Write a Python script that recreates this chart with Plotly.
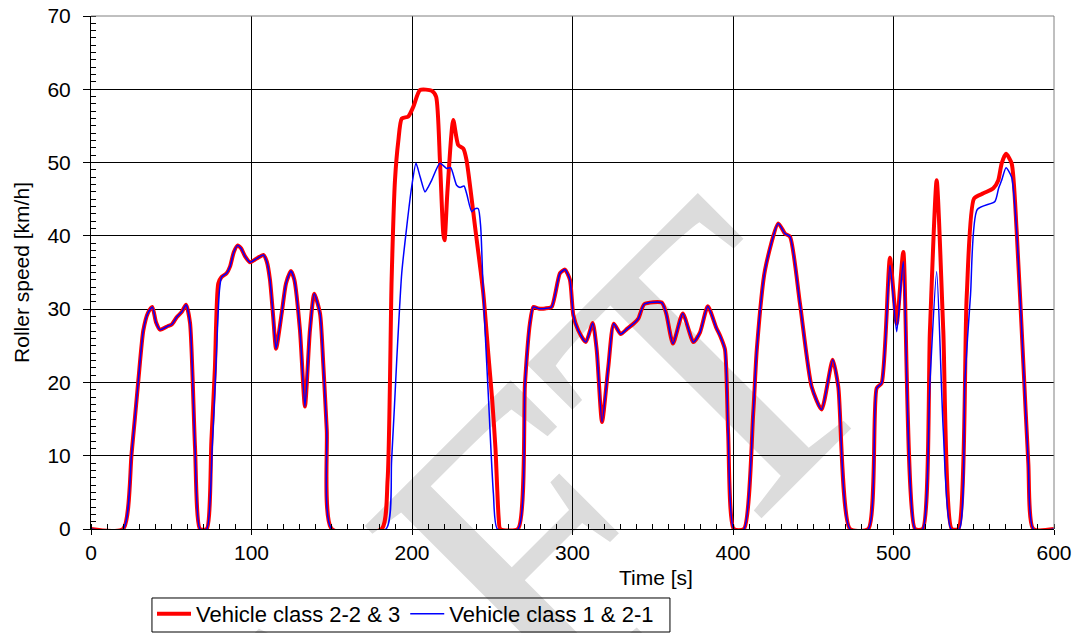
import plotly.graph_objects as go

# ---- data ----
t_red = [0, 20, 25.3, 29.5, 32.6, 35.5, 38.2, 40.5, 43, 48, 50.3, 53.4, 56.5, 59.2, 61.7, 64.8, 67.9,
         72.1, 75, 77.2, 79.3, 81.4, 84.5, 86.6, 89, 91.4, 93.5, 96, 99.1, 103.2, 107.4, 109.5, 111.5,
         113.5, 115.3, 118.8, 121.5, 124.6, 126.7, 130.2, 133.3, 136.4, 139.1, 142.7, 144.7, 146.9, 150,
         181.1, 184.8, 187.3, 189.4, 191.5, 193.6, 197.7, 200.8, 205, 212.3, 215, 217.4, 219.5, 220.3,
         222, 225.7, 228.8, 232, 234, 239.3, 244.4, 247.5, 250, 252, 254, 255,
         266, 270.4, 273.5, 275.6, 278.7, 283, 287, 292.2, 295.3, 298.4, 300.5, 303.6, 308.3, 312.6,
         315.1, 318.4, 322.3, 325.7, 330, 334, 338.5, 341, 344.8, 355.6, 358.4, 362.6, 368.7, 375.3,
         379.4, 384.3, 389.5, 392.3, 395, 397, 400.5, 406.8, 412.6, 414.8, 419.9, 428.2, 432.4, 435.5,
         441.7, 449, 455.2, 462.1, 465.6, 472.9, 484.3, 489.5, 492.6, 497.8, 502, 506.1, 513.4,
         518.2, 522.7, 526.9, 531, 536.3, 540.4, 545.6, 550.2, 556, 562.2, 565.3, 567.4, 570.1, 573.6,
         576.7, 580.9, 584, 587.1, 600]
v_red = [0, 0, 10.3, 20.3, 27.1, 29.5, 30.3, 28.2, 27.2, 27.7, 27.9, 28.9, 29.6, 30.6, 28.1, 11.2, 0,
         0, 12, 22, 33.5, 34.4, 34.9, 35.8, 37.8, 38.7, 38.3, 37.2, 36.4, 36.9, 37.4, 36.5, 34.0,
         29, 24.6, 29.4, 33.5, 35.2, 34.0, 27.1, 16.7, 27.1, 32.1, 29.4, 22.6, 13.5, 0,
         0, 6.7, 34, 47.6, 53, 56.0, 56.3, 57.6, 59.9, 59.8, 59, 50.3, 40.3, 39.4,
         45.8, 55.8, 52.4, 51.9, 50.3, 41.2, 32.2, 24.0, 17.5, 11, 1.5, 0,
         0, 19.9, 28.1, 30.3, 30.1, 30.1, 30.3, 34.9, 35.4, 34, 29.2, 27.1, 25.5, 28.1,
         24.4, 14.6, 22.1, 28.0, 26.6, 27.3, 28.1, 28.7, 30.7, 30.9, 29.4, 25.3, 29.4, 25.5,
         26.8, 30.4, 27.5, 26.2, 24.5, 13, 0, 0, 15.8, 24.4, 35.3, 41.7, 40.3, 39.9,
         30.8, 19.4, 16.3, 23.1, 19.4, 0, 0, 19.2, 19.9, 37.0, 28.0, 37.8, 0,
         0, 27.1, 47.6, 27.1, 0, 0, 31.7, 45.1, 45.8, 46.5, 47.6, 49.9, 51.2, 49.9,
         40.8, 22.6, 9, 0, 0]

t_blue = [0, 20, 25.3, 29.5, 32.6, 35.5, 38.2, 40.5, 43, 48, 50.3, 53.4, 56.5, 59.2, 61.7, 64.8, 67.9,
          72.1, 75.5, 77.6, 80, 81.4, 84.5, 86.6, 89, 91.4, 93.5, 96, 99.1, 103.2, 107.4, 109.5, 111.5,
          113.5, 115.3, 118.8, 121.5, 124.6, 126.7, 130.2, 133.3, 136.4, 139.1, 142.7, 144.7, 146.9, 150,
          183.8, 187.3, 190.5, 193.6, 196.7, 199.8, 202.5, 205, 208.1, 210.2, 212.3, 217.4, 221.6, 224.1,
          227.8, 229.9, 232.4, 234, 237.2, 239.3, 241.3, 242.8, 244.4, 247.5, 250.7, 253.2,
          266, 270.4, 273.5, 275.6, 278.7, 283, 287, 292.2, 295.3, 298.4, 300.5, 303.6, 308.3, 312.6,
          315.1, 318.4, 322.3, 325.7, 330, 334, 338.5, 341, 344.8, 355.6, 358.4, 362.6, 368.7, 375.3,
          379.4, 384.3, 389.5, 392.3, 395, 397, 400.5, 406.8, 412.6, 414.8, 419.9, 428.2, 432.4, 435.5,
          441.7, 449, 455.2, 462.1, 465.6, 472.9, 484.3, 489.5, 492.6, 497.8, 502, 506.1, 513.4,
          518.2, 522.7, 526.9, 531, 535.8, 541, 544.5, 548, 552.2, 563.2, 565.5, 567.4, 570.1, 573.6,
          576.7, 580.9, 584, 587.1, 600]
v_blue = [0, 0, 10.3, 20.3, 27.1, 29.5, 30.3, 28.2, 27.2, 27.7, 27.9, 28.9, 29.6, 30.6, 28.1, 11.2, 0,
          0, 11, 21, 32.5, 34.4, 34.9, 35.8, 37.8, 38.7, 38.3, 37.2, 36.4, 36.9, 37.4, 36.5, 34.0,
          29, 24.6, 29.4, 33.5, 35.2, 34.0, 27.1, 16.7, 27.1, 32.1, 29.4, 22.6, 13.5, 0,
          0, 9.4, 23.1, 34.9, 41.2, 46.7, 49.9, 48.1, 46.0, 46.7, 47.6, 49.9, 49.2, 49.3,
          46.9, 46.6, 46.8, 45.8, 43.3, 43.7, 43.7, 41.2, 32.2, 18.5, 4.9, 0,
          0, 19.9, 28.1, 30.3, 30.1, 30.1, 30.3, 34.9, 35.4, 34, 29.2, 27.1, 25.5, 28.1,
          24.4, 14.6, 22.1, 28.0, 26.6, 27.3, 28.1, 28.7, 30.7, 30.9, 29.4, 25.3, 29.4, 25.5,
          26.8, 30.4, 27.5, 26.2, 24.5, 13, 0, 0, 15.8, 24.4, 35.3, 41.7, 40.3, 39.9,
          30.8, 19.4, 16.3, 23.1, 19.4, 0, 0, 19.2, 19.9, 36.0, 26.9, 36.5, 0,
          0, 20, 35.1, 13.5, 0, 0, 20.3, 32, 43.6, 44.7, 46.5, 47.6, 49.3, 48,
          40.8, 22.6, 9, 0, 0]

x_ticks = [0, 100, 200, 300, 400, 500, 600]
y_ticks = [0, 10, 20, 30, 40, 50, 60, 70]

FONT = "Liberation Sans, Arial, sans-serif"

fig = go.Figure()
fig.add_trace(go.Scatter(x=t_red, y=v_red, mode="lines", name="Vehicle class 2-2 & 3",
                         line=dict(color="#ff0000", width=4, shape="spline", smoothing=0.6)))
fig.add_trace(go.Scatter(x=t_blue, y=v_blue, mode="lines", name="Vehicle class 1 & 2-1",
                         line=dict(color="#0000ff", width=1.5, shape="spline", smoothing=0.6)))

axis_common = dict(showgrid=True, gridcolor="#000000", gridwidth=1, showline=True,
                   linecolor="#000000", linewidth=1, zeroline=False,
                   ticks="outside", tickcolor="#000000",
                   tickfont=dict(family=FONT, size=21, color="#000000"))

fig.update_xaxes(range=[0, 600], tickvals=x_ticks, ticktext=[str(v) for v in x_ticks], ticklen=5,
                 minor=dict(dtick=10, ticks="inside", ticklen=5, tickcolor="#000000", showgrid=False),
                 **axis_common)
fig.update_yaxes(range=[0, 70], tickvals=y_ticks, ticktext=[str(v) for v in y_ticks], ticklen=7,
                 ticklabelstandoff=8,
                 minor=dict(dtick=1, ticks="inside", ticklen=5, tickcolor="#000000", showgrid=False),
                 title=dict(text="Roller speed [km/h]", font=dict(family=FONT, size=21, color="#000000"),
                            standoff=12),
                 **axis_common)

# frame lines (top / right) in grey
fig.add_shape(type="line", xref="paper", yref="paper", x0=0, x1=1, y0=1, y1=1,
              line=dict(color="#808080", width=1))
fig.add_shape(type="line", xref="paper", yref="paper", x0=1, x1=1, y0=0, y1=1,
              line=dict(color="#808080", width=1))

# legend frame
fig.add_shape(type="rect", xref="paper", yref="paper", x0=0.0633, x1=0.6012, y0=-0.1345, y1=-0.2008,
              line=dict(color="#000000", width=1), fillcolor="rgba(0,0,0,0)")

# DRAFT watermark behind grid and curves
fig.add_shape(type="line", xref="paper", yref="paper", x0=0.184, x1=0.204, y0=-0.405, y1=-0.405,
              layer="below", line=dict(width=0, color="rgba(0,0,0,0)"),
              label=dict(text="DRAFT", textangle=-45, textposition="middle",
                         xanchor="center", yanchor="middle",
                         font=dict(family="Liberation Serif, Times New Roman, serif", size=420,
                                   color="#dcdcdc")))

fig.add_annotation(text="Time [s]", xref="paper", yref="paper", x=0.587, y=-0.0955,
                   showarrow=False, xanchor="center", yanchor="middle",
                   font=dict(family=FONT, size=21, color="#000000"))

fig.update_layout(
    width=1088, height=633,
    margin=dict(l=91, r=34, t=16, b=104, autoexpand=False),
    paper_bgcolor="white", plot_bgcolor="rgba(0,0,0,0)",
    showlegend=True,
    legend=dict(orientation="h", xref="container", yref="container",
                x=152 / 1088, y=1 - 593 / 633, xanchor="left", yanchor="top",
                bgcolor="rgba(0,0,0,0)", borderwidth=0,
                font=dict(family=FONT, size=22, color="#000000"),
                itemwidth=34, tracegroupgap=0),
    font=dict(family=FONT, color="#000000"),
)

fig.write_html("out.html")
